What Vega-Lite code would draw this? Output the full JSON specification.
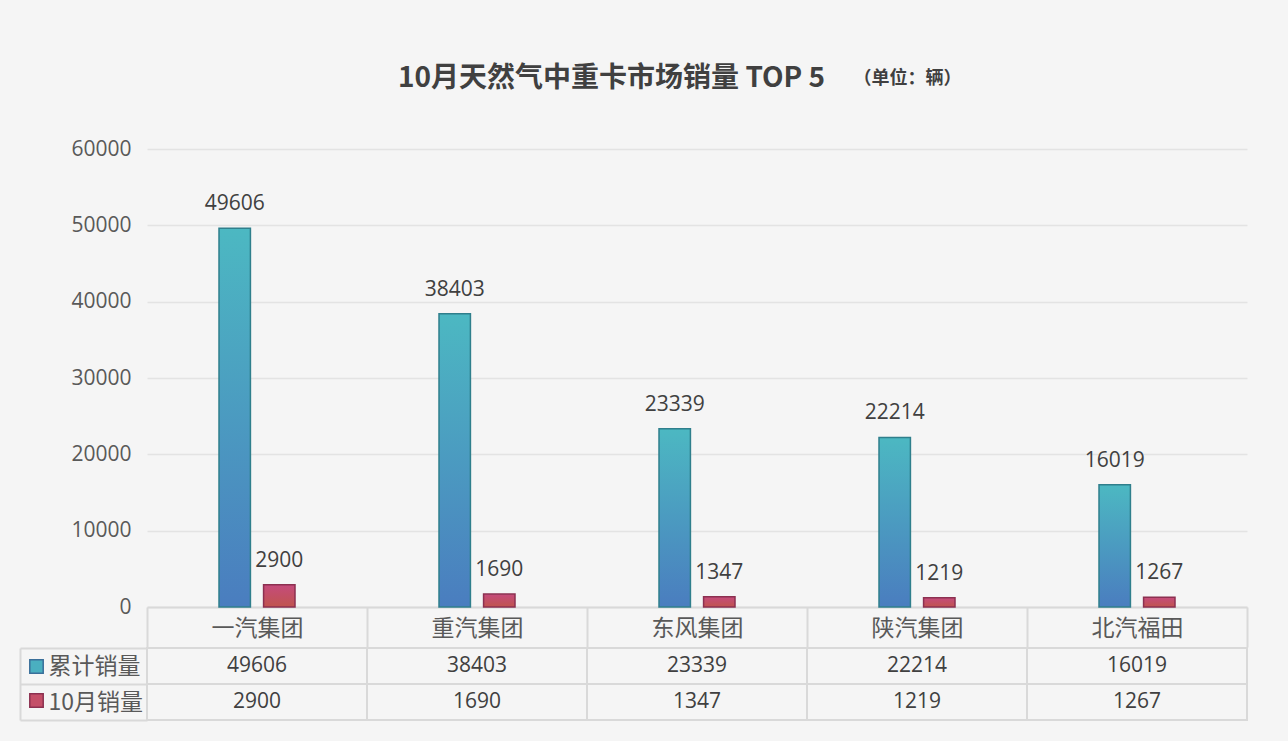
{
  "$schema": "https://vega.github.io/schema/vega-lite/v6.json",
  "background": "#f5f5f5",
  "padding": {"left": 19, "top": 65, "right": 41, "bottom": 20},
  "config": {"view": {"stroke": null}, "font": "Noto Sans CJK SC"},
  "data": {
    "values": [
      {"company": "一汽集团", "series": "累计销量", "value": 49606},
      {"company": "一汽集团", "series": "10月销量", "value": 2900},
      {"company": "重汽集团", "series": "累计销量", "value": 38403},
      {"company": "重汽集团", "series": "10月销量", "value": 1690},
      {"company": "东风集团", "series": "累计销量", "value": 23339},
      {"company": "东风集团", "series": "10月销量", "value": 1347},
      {"company": "陕汽集团", "series": "累计销量", "value": 22214},
      {"company": "陕汽集团", "series": "10月销量", "value": 1219},
      {"company": "北汽福田", "series": "累计销量", "value": 16019},
      {"company": "北汽福田", "series": "10月销量", "value": 1267}
    ]
  },
  "spacing": -11,
  "vconcat": [
    {
      "width": 1100,
      "height": 458,
      "title": {
        "text": "10月天然气中重卡市场销量 TOP 5",
        "anchor": "start",
        "frame": "group",
        "dx": 251,
        "offset": -24,
        "font": "Noto Sans CJK SC",
        "fontSize": 28,
        "fontWeight": "bold",
        "color": "#404040"
      },
      "encoding": {
        "x": {
          "field": "company",
          "type": "nominal",
          "sort": null,
          "scale": {"paddingInner": 0, "paddingOuter": 0},
          "axis": {
            "title": null,
            "labelAngle": 0,
            "domainColor": "#d9d9d9",
            "domainWidth": 2,
            "ticks": true,
            "tickBand": "extent",
            "tickSize": 40,
            "tickColor": "#d9d9d9",
            "tickWidth": 2,
            "labelPadding": -19,
            "labelBaseline": "middle",
            "labelFont": "Noto Sans CJK SC",
            "labelFontSize": 23,
            "labelColor": "#595959"
          }
        },
        "xOffset": {
          "field": "series",
          "type": "nominal",
          "scale": {"domain": ["累计销量", "10月销量"], "range": [72, 148], "paddingInner": 0.295, "paddingOuter": 0}
        },
        "y": {
          "field": "value",
          "type": "quantitative",
          "scale": {"domain": [0, 60000]},
          "axis": {
            "title": "（单位：辆）",
            "titleAngle": 0,
            "titleAlign": "left",
            "titleBaseline": "middle",
            "titleX": 706,
            "titleY": -71,
            "titleFont": "Noto Sans CJK SC",
            "titleFontSize": 18,
            "titleFontWeight": "bold",
            "titleColor": "#404040",
            "values": [0, 10000, 20000, 30000, 40000, 50000, 60000],
            "format": "d",
            "domain": false,
            "ticks": false,
            "labelPadding": 16,
            "labelFont": "Open Sans",
            "labelFontSize": 21,
            "labelColor": "#595959",
            "gridColor": "#e3e3e3",
            "gridWidth": 1.5
          }
        }
      },
      "layer": [
        {
          "transform": [{"filter": "datum.series == '累计销量'"}],
          "mark": {
            "type": "bar",
            "fill": {"gradient": "linear", "x1": 0, "y1": 0, "x2": 0, "y2": 1, "stops": [{"offset": 0, "color": "#4cb8c2"}, {"offset": 1, "color": "#4a7dbf"}]},
            "stroke": "#2f7f8c",
            "strokeWidth": 1.5
          }
        },
        {
          "transform": [{"filter": "datum.series == '10月销量'"}],
          "mark": {
            "type": "bar",
            "fill": {"gradient": "linear", "x1": 0, "y1": 0, "x2": 0, "y2": 1, "stops": [{"offset": 0, "color": "#c54b7c"}, {"offset": 1, "color": "#c0544e"}]},
            "stroke": "#8c3050",
            "strokeWidth": 1.5
          }
        },
        {
          "mark": {"type": "text", "baseline": "bottom", "dy": -14, "font": "Open Sans", "fontSize": 21, "color": "#404040"},
          "encoding": {"text": {"field": "value", "type": "quantitative", "format": "d"}}
        },
        {
          "transform": [{"filter": "false"}],
          "mark": {"type": "square", "strokeWidth": 1.5},
          "encoding": {
            "color": {
              "field": "series",
              "type": "nominal",
              "scale": {"domain": ["累计销量", "10月销量"], "range": ["#4aafc0", "#c44f68"]},
              "legend": {
                "orient": "none",
                "legendX": -118,
                "legendY": 510,
                "title": null,
                "labelExpr": "''",
                "symbolType": "square",
                "symbolSize": 180,
                "symbolOpacity": 1,
                "symbolStrokeWidth": 1.5,
                "rowPadding": 13
              }
            },
            "stroke": {
              "field": "series",
              "type": "nominal",
              "scale": {"domain": ["累计销量", "10月销量"], "range": ["#3a6f9a", "#8c3050"]},
              "legend": {
                "orient": "none",
                "legendX": -118,
                "legendY": 510,
                "title": null,
                "labelExpr": "''",
                "symbolType": "square",
                "symbolSize": 180,
                "symbolOpacity": 1,
                "symbolStrokeWidth": 1.5,
                "rowPadding": 13
              }
            }
          }
        }
      ]
    },
    {
      "width": 1100,
      "height": 72,
      "encoding": {
        "x": {
          "field": "company",
          "type": "nominal",
          "sort": null,
          "scale": {"paddingInner": 0, "paddingOuter": 0},
          "axis": null
        },
        "y": {
          "field": "series",
          "type": "nominal",
          "sort": ["累计销量", "10月销量"],
          "scale": {"paddingInner": 0, "paddingOuter": 0},
          "axis": {
            "title": null,
            "offset": 127,
            "domainColor": "#d9d9d9",
            "domainWidth": 2,
            "ticks": true,
            "tickBand": "extent",
            "tickSize": -127,
            "tickColor": "#d9d9d9",
            "tickWidth": 2,
            "labelAlign": "left",
            "labelPadding": 99,
            "labelFont": "Noto Sans CJK SC",
            "labelFontSize": 23,
            "labelColor": "#595959",
            "grid": false
          }
        }
      },
      "layer": [
        {"mark": {"type": "rect", "filled": false, "color": "#d9d9d9", "strokeWidth": 2}},
        {
          "mark": {"type": "text", "font": "Open Sans", "fontSize": 21, "color": "#404040"},
          "encoding": {"text": {"field": "value", "type": "quantitative", "format": "d"}}
        }
      ]
    }
  ]
}
